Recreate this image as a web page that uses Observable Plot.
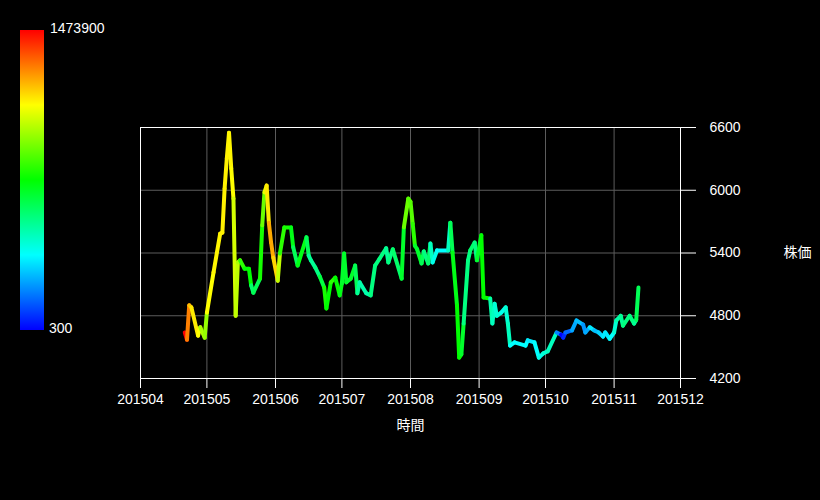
<!DOCTYPE html>
<html><head><meta charset="utf-8">
<script src="https://cdn.jsdelivr.net/npm/d3@7"></script>
<script src="https://cdn.jsdelivr.net/npm/@observablehq/plot@0.6"></script>
<style>
html,body{margin:0;padding:0;background:#000;}
#wrap{position:relative;width:820px;height:500px;background:#000;overflow:hidden;}
#wrap svg{position:absolute;left:0;top:0;}
#legend{position:absolute;left:20px;top:30px;width:24px;height:300px;}
.lg{position:absolute;color:#fff;font:14px "Liberation Sans",Arial,sans-serif;line-height:16px;white-space:nowrap;}
</style></head><body><div id="wrap"></div>
<script>
const dates = [
"2015-04-21","2015-04-22","2015-04-23","2015-04-24","2015-04-27","2015-04-28","2015-04-30","2015-05-01","2015-05-04","2015-05-07",
"2015-05-08","2015-05-09","2015-05-10","2015-05-11","2015-05-12","2015-05-13","2015-05-14","2015-05-15","2015-05-16","2015-05-18",
"2015-05-20","2015-05-21","2015-05-22","2015-05-25","2015-05-26","2015-05-27","2015-05-28","2015-05-29","2015-05-30","2015-05-31",
"2015-06-02","2015-06-03","2015-06-05","2015-06-08","2015-06-09","2015-06-11","2015-06-15","2015-06-16","2015-06-17","2015-06-19",
"2015-06-21","2015-06-23","2015-06-24","2015-06-26","2015-06-28","2015-06-30","2015-07-01","2015-07-02","2015-07-03","2015-07-05",
"2015-07-07","2015-07-08","2015-07-09","2015-07-12","2015-07-14","2015-07-16","2015-07-18","2015-07-21","2015-07-22","2015-07-24",
"2015-07-28","2015-07-29","2015-07-31","2015-08-01","2015-08-02","2015-08-03","2015-08-04","2015-08-06","2015-08-07","2015-08-09",
"2015-08-10","2015-08-11","2015-08-13","2015-08-18","2015-08-19","2015-08-20","2015-08-22","2015-08-23","2015-08-24","2015-08-25",
"2015-08-27","2015-08-28","2015-08-30","2015-08-31","2015-09-02","2015-09-03","2015-09-06","2015-09-07","2015-09-08","2015-09-09",
"2015-09-11","2015-09-13","2015-09-14","2015-09-15","2015-09-17","2015-09-22","2015-09-23","2015-09-26","2015-09-28","2015-09-30",
"2015-10-02","2015-10-06","2015-10-08","2015-10-09","2015-10-10","2015-10-13","2015-10-15","2015-10-18","2015-10-19","2015-10-21",
"2015-10-23","2015-10-25","2015-10-27","2015-10-28","2015-10-30","2015-11-01","2015-11-02","2015-11-04","2015-11-05","2015-11-08",
"2015-11-10","2015-11-11","2015-11-12"];
const prices = [
4640,4570,4900,4880,4610,4690,4590,4830,5215,5585,
5595,6015,6305,6550,6210,5920,4800,5310,5330,5250,
5250,5090,5020,5155,5665,5980,6045,5690,5500,5355,
5135,5395,5645,5645,5455,5280,5550,5375,5330,5260,
5175,5070,4870,5120,5165,4995,5110,5395,5120,5155,
5280,5015,5120,5015,4995,5280,5345,5445,5310,5435,
5155,5645,5920,5890,5680,5470,5435,5300,5415,5300,
5490,5310,5425,5425,5690,5405,4900,4400,4430,4725,
5330,5425,5500,5330,5570,4975,4965,4725,4915,4800,
4830,4880,4725,4515,4545,4515,4565,4545,4400,4440,
4460,4640,4620,4590,4640,4660,4755,4715,4640,4690,
4660,4640,4600,4640,4580,4640,4755,4800,4705,4800,
4725,4760,5070];
const volumes = [
1473900,1289700,1197600,1136200,1105500,982700,952000,1105500,1117800,1123900,
1123900,1123900,1123900,1117800,1105500,1044000,1013400,982700,798500,737100,
737100,583600,614300,767800,890600,1074800,1136200,1228300,1228300,1166900,
1013400,798500,767800,706400,614300,706400,614300,522200,522200,552900,
645000,767800,737100,798500,737100,706400,675700,675700,675700,675700,
614300,522200,491500,491500,552900,552900,552900,522200,552900,583600,
675700,890600,859900,859900,798500,675700,675700,614300,552900,583600,
460800,399400,368700,460800,614300,706400,737100,737100,675700,552900,
552900,583600,552900,675700,737100,737100,491500,460800,430100,430100,
399400,430100,460800,368700,368700,368700,338000,368700,399400,430100,
460800,184500,300,61700,153800,245900,276600,215200,245900,338000,
276600,307300,338000,338000,368700,430100,491500,522200,552900,552900,
522200,614300,614300];
const xTicks = ["2015-04-01","2015-05-01","2015-06-01","2015-07-01","2015-08-01","2015-09-01","2015-10-01","2015-11-01","2015-12-01"];
const yTicks = [4200,4800,5400,6000,6600];
const legendTicks = [300,1473900];
const xTitle = "時間";
const yTitle = "株価";

const parse = d3.utcParse("%Y-%m-%d");
const data = dates.map((d,i)=>({date: parse(d), price: prices[i], volume: volumes[i]}));
const segments = data.slice(0,-1).map((d,i)=>({x1:d.date, y1:d.price, x2:data[i+1].date, y2:data[i+1].price, volume:d.volume}));
const ramp = t => d3.hsl(240*(1-t),1,0.5).formatHex();
const monthTicks = xTicks.map(parse);

const chart = Plot.plot({
  width: 820, height: 500,
  marginLeft: 140, marginRight: 140, marginTop: 127, marginBottom: 122,
  style: {background: "#000", color: "#fff", fontFamily: "'Liberation Sans', Arial, sans-serif", fontSize: "14px"},
  x: {type: "utc", domain: [monthTicks[0], monthTicks[monthTicks.length-1]]},
  y: {domain: [yTicks[0], yTicks[yTicks.length-1]]},
  color: {type: "linear", domain: [legendTicks[0], legendTicks[1]], interpolate: ramp},
  marks: [
    Plot.gridX({ticks: monthTicks, stroke: "#5c5c5c", strokeOpacity: 1}),
    Plot.gridY({ticks: yTicks, stroke: "#5c5c5c", strokeOpacity: 1}),
    Plot.link(segments, {x1: "x1", y1: "y1", x2: "x2", y2: "y2", stroke: "volume", strokeWidth: 4, strokeLinecap: "round"}),
    Plot.frame({stroke: "#fff"}),
    Plot.axisX({ticks: monthTicks, tickFormat: d3.utcFormat("%Y%m"), tickSize: 10, tickPadding: 6, label: null}),
    Plot.axisY({anchor: "right", ticks: yTicks, tickFormat: d => String(d), tickSize: 15, tickPadding: 14, label: null}),
    Plot.text([yTitle], {text: d => d, frameAnchor: "right", dx: 117, textAnchor: "middle", lineAnchor: "middle", fill: "#fff", fontFamily: "'Noto Sans CJK JP'", fontSize: 14}),
    Plot.text([xTitle], {text: d => d, frameAnchor: "bottom", dy: 47, textAnchor: "middle", lineAnchor: "middle", fill: "#fff", fontFamily: "'Noto Sans CJK JP'", fontSize: 14})
  ]
});
const wrap = document.getElementById("wrap");
wrap.appendChild(chart);

const legendBar = document.createElement("div");
legendBar.id = "legend";
const stops = d3.range(0, 21).map(i => `${ramp(i/20)} ${i*5}%`).join(",");
legendBar.style.background = `linear-gradient(to top, ${stops})`;
wrap.appendChild(legendBar);
const labelMax = document.createElement("span");
labelMax.className = "lg"; labelMax.style.left = "50px"; labelMax.style.top = "20px";
labelMax.textContent = String(legendTicks[1]);
wrap.appendChild(labelMax);
const labelMin = document.createElement("span");
labelMin.className = "lg"; labelMin.style.left = "49px"; labelMin.style.top = "320px";
labelMin.textContent = String(legendTicks[0]);
wrap.appendChild(labelMin);
</script></body></html>
